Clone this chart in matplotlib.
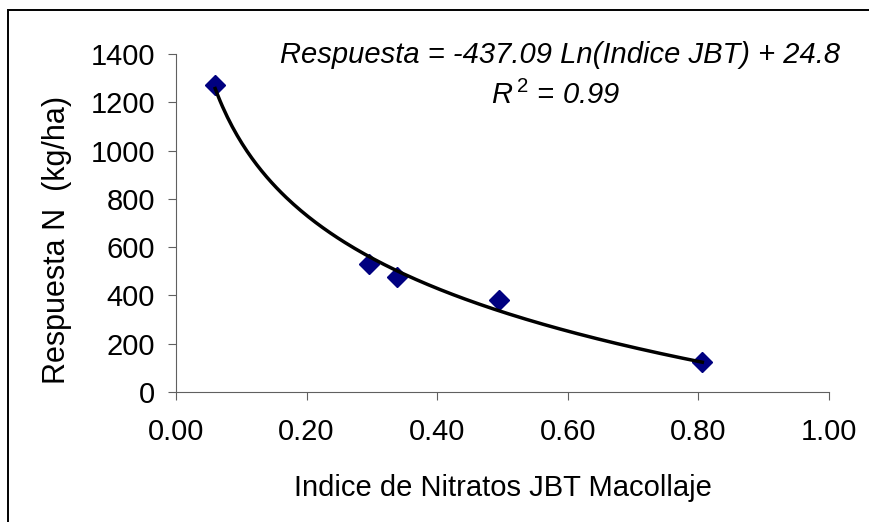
import numpy as np
import matplotlib
matplotlib.use("Agg")
from matplotlib import pyplot as plt
from matplotlib.patches import Rectangle

plt.rcParams['font.family'] = ['Liberation Sans', 'DejaVu Sans']
plt.rcParams['mathtext.fontset'] = 'custom'
plt.rcParams['mathtext.rm'] = 'Liberation Sans'
plt.rcParams['mathtext.it'] = 'Liberation Sans:italic'

# datos
indice_jbt = [0.06, 0.295, 0.338, 0.495, 0.806]
respuesta_n = [1270, 530, 476, 380, 125]

x_ticks = [0.0, 0.2, 0.4, 0.6, 0.8, 1.0]
x_tick_labels = ['0.00', '0.20', '0.40', '0.60', '0.80', '1.00']
y_ticks = [0, 200, 400, 600, 800, 1000, 1200, 1400]

ecuacion = 'Respuesta = -437.09 Ln(Indice JBT) + 24.8'
r2_texto = r'$R^{\,2}$ = 0.99'

# ajuste logaritmico (linea de tendencia)
pendiente, intercepto = np.polyfit(np.log(indice_jbt), respuesta_n, 1)
xs = np.linspace(min(indice_jbt), max(indice_jbt), 200)
ys = pendiente * np.log(xs) + intercepto

fig = plt.figure(figsize=(8.69, 5.22), dpi=100)
ax = fig.add_axes([176 / 869, 1 - 392 / 522, 653 / 869, 338 / 522])

ax.plot(xs, ys, color='black', lw=2.5, zorder=3)
ax.plot(indice_jbt, respuesta_n, 'D', color='#000080', ms=10.5, mec='#000080', zorder=2)

ax.set_xlim(0, 1)
ax.set_ylim(0, 1400)
ax.set_xticks(x_ticks)
ax.set_xticklabels(x_tick_labels)
ax.set_yticks(y_ticks)
ax.tick_params(labelsize=21, length=6, width=0.8, color='#606060', pad=9, direction='out')
ax.tick_params(axis='x', pad=13)
for s in ['top', 'right']:
    ax.spines[s].set_visible(False)
for s in ['left', 'bottom']:
    ax.spines[s].set_color('#606060')
    ax.spines[s].set_linewidth(0.8)

ax.set_xlabel('Indice de Nitratos JBT Macollaje', fontsize=21, labelpad=20)
ax.set_ylabel('Respuesta N  (kg/ha)', fontsize=22)
ax.yaxis.set_label_coords(-0.16, 0.45)

fig.text(560 / 869, 1 - 55 / 522, ecuacion, fontsize=21, style='italic', ha='center', va='center')
fig.text(556 / 869, 1 - 95 / 522, r2_texto, fontsize=21, style='italic', ha='center', va='center')

# marco exterior
fig.patches.append(Rectangle((8 / 869, -0.2), 1.5, 1.2 - 10 / 522, transform=fig.transFigure,
                             fill=False, edgecolor='black', lw=1.4, clip_on=False))

fig.savefig('out.png', dpi=100)
